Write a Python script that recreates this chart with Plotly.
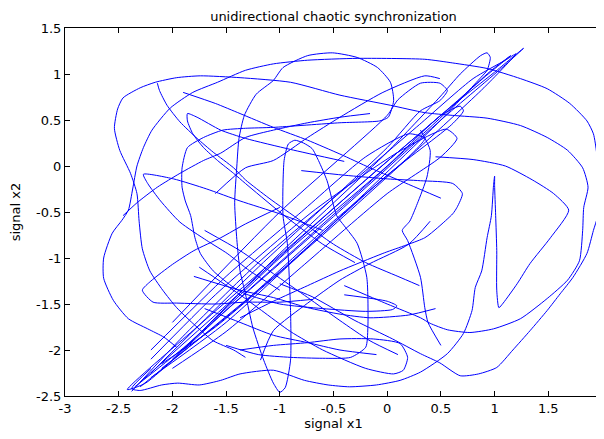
import plotly.graph_objects as go

# ---- traced trajectory pieces (signal x1, signal x2) ----
outer_a_x1 = [-1.96,-2.08,-2.23,-2.41,-2.55,-2.64,-2.64,-2.56,-2.47,-2.41,-2.37,-2.33,-2.27,-2.19,-2.02,-1.81,-1.58,-1.32,-1.06,-0.74,-0.28,0.35,0.61,0.93,1.24,1.49,1.70,1.86,1.92,1.95,1.96,1.96,1.92,1.86,1.73,1.61,1.49,1.33,1.17,1.02,0.85,0.68,0.49,0.31,0.05,-0.30,-0.70,-1.00]
outer_a_x2 = [-1.97,-1.86,-1.77,-1.66,-1.46,-1.22,-1.00,-0.73,-0.59,-0.48,-0.25,0.00,0.20,0.39,0.63,0.80,0.91,1.04,1.11,1.15,1.17,1.16,1.12,1.06,0.95,0.84,0.68,0.49,0.35,0.14,-0.20,-0.54,-0.70,-0.95,-1.21,-1.39,-1.57,-1.79,-2.00,-2.19,-2.26,-2.28,-2.14,-2.04,-1.88,-1.68,-1.42,-1.28]

outer_b_x1 = [-1.32,-1.43,-1.62,-1.81,-1.96,-2.09,-2.21,-2.28,-2.31,-2.33,-2.39,-2.49,-2.54,-2.51,-2.46,-2.30,-2.16,-1.96,-1.74,-1.37,-0.90,-0.44,0.03,0.35,0.61,0.93,1.24,1.49,1.68,1.82,1.87,1.83,1.82,1.79,1.68,1.49,1.24,0.99,0.77,0.56,0.40,0.31,0.00,-0.40]
outer_b_x2 = [-2.08,-2.00,-1.90,-1.71,-1.54,-1.35,-1.14,-0.90,-0.60,-0.30,-0.08,0.17,0.41,0.62,0.74,0.85,0.91,0.96,0.98,0.96,0.91,0.77,0.66,0.58,0.55,0.52,0.44,0.31,0.17,-0.02,-0.23,-0.45,-0.70,-1.03,-1.24,-1.44,-1.66,-1.77,-1.81,-1.78,-1.71,-1.65,-1.50,-1.30]

spike_x1 = [0.45,0.80,1.10,1.35,1.55,1.69,1.52,1.33,1.21,1.08,1.04,1.02,1.02,1.01,1.00,1.00,0.99,0.97,0.93,0.88,0.82,0.79,0.71,0.56,0.31,0.12,-0.10,-0.35,-0.55,-0.77,-1.06,-1.37,-1.55,-1.75,-1.95,-2.10,-2.30,-2.38,-2.20]
spike_x2 = [0.10,0.07,0.00,-0.15,-0.30,-0.48,-0.78,-1.06,-1.28,-1.49,-1.54,-1.35,-0.92,-0.54,-0.21,-0.11,-0.21,-0.54,-0.78,-1.14,-1.32,-1.57,-1.82,-2.04,-2.24,-2.33,-2.38,-2.40,-2.38,-2.33,-2.22,-2.26,-2.33,-2.38,-2.36,-2.38,-2.44,-2.42,-2.20]

dome_x1 = [-1.50,-1.20,-0.90,-0.60,-0.34,-0.20,-0.18,-0.19,-0.28,-0.40,-0.47,-0.56,-0.64,-0.70,-0.78,-0.86,-0.92,-0.96,-0.97,-0.93,-0.90,-0.90,-0.95,-1.00,-1.06,-1.15,-1.25,-1.32,-1.37,-1.40,-1.42,-1.40,-1.38,-1.33,-1.22,-1.06,-0.97,-0.74,-0.51,-0.28,-0.09,0.03,0.06,0.01,-0.07,-0.44,-1.06,-1.32,-1.53,-1.71,-1.86,-1.91,-1.91,-1.88,-1.83,-1.79,-1.74,-1.62,-1.43,-1.32,-1.00,-0.60,-0.20,0.05,0.09,0.00,-0.40]
dome_x2 = [-1.95,-2.05,-2.08,-2.09,-2.08,-1.97,-1.76,-1.21,-0.84,-0.65,-0.54,-0.16,0.06,0.19,0.25,0.28,0.24,0.06,-0.54,-0.84,-1.57,-2.11,-2.41,-2.46,-2.36,-2.11,-1.76,-1.39,-1.14,-0.80,-0.40,0.00,0.30,0.55,0.78,0.93,1.07,1.20,1.23,1.18,1.07,0.91,0.71,0.53,0.49,0.47,0.42,0.41,0.39,0.31,0.20,-0.02,-0.23,-0.38,-0.54,-0.78,-0.95,-1.14,-1.32,-1.39,-1.50,-1.55,-1.58,-1.56,-1.52,-1.47,-1.40]

tear_x1 = [-0.40,-0.90,-1.32,-1.55,-1.77,-1.86,-1.86,-1.81,-1.71,-1.58,-1.43,-1.32,-1.00,-0.60,-0.30]
tear_x2 = [0.05,0.18,0.30,0.39,0.53,0.57,0.49,0.35,0.20,0.06,-0.08,-0.19,-0.50,-0.85,-1.05]

tipa_x1 = [-0.60,-1.00,-1.37,-1.68,-1.99,-2.27,-2.23,-2.11,-1.93,-1.68,-1.49,-1.28,-1.00]
tipa_x2 = [-0.70,-0.52,-0.38,-0.25,-0.14,-0.09,-0.19,-0.38,-0.61,-0.81,-0.95,-1.14,-1.35]

tipb_x1 = [-1.00,-1.32,-1.55,-1.80,-2.00,-2.20,-2.28,-2.18,-1.96,-1.60,-1.32,-1.00,-0.70]
tipb_x2 = [-0.45,-0.63,-0.78,-0.92,-1.07,-1.25,-1.35,-1.48,-1.49,-1.50,-1.48,-1.48,-1.45]

rise_x1 = [-2.46,-2.33,-2.14,-1.93,-1.71,-1.55,-1.32,-1.06,-0.74,-0.44,-0.16]
rise_x2 = [-0.54,-0.40,-0.23,-0.08,0.06,0.14,0.31,0.39,0.47,0.53,0.57]

fall_x1 = [-1.90,-1.60,-1.37,-1.06,-0.74,-0.44,-0.16,0.20,0.50]
fall_x2 = [0.80,0.68,0.57,0.42,0.28,0.13,-0.02,-0.20,-0.35]

up_x1 = [-1.60,-1.32,-1.06,-0.74,-0.44,-0.04,0.35,0.49]
up_x2 = [-0.30,-0.02,0.06,0.31,0.53,0.80,0.98,0.95]

diag_x1 = [-2.14,-2.12,-2.05,-1.93,-1.77,-1.62,-1.43,-1.32,-1.10,-0.80,-0.50,-0.20,0.10,0.30]
diag_x2 = [0.90,0.82,0.66,0.48,0.30,0.15,-0.02,-0.15,-0.35,-0.60,-0.85,-1.05,-1.20,-1.30]

mid_x1 = [-1.37,-1.06,-0.74,-0.44,-0.04,0.35,0.47,0.61,0.65,0.70,0.61,0.31,0.00,-0.40,-0.80]
mid_x2 = [-1.65,-1.47,-1.30,-1.14,-0.95,-0.78,-0.67,-0.52,-0.45,-0.30,-0.19,-0.16,-0.14,-0.10,-0.05]

low_x1 = [-1.37,-1.06,-0.74,-0.44,-0.13,0.12,0.19,0.15,0.06,-0.20,-0.60,-0.90,-1.17,-1.37,-1.75]
low_x2 = [-2.00,-1.95,-1.92,-1.88,-1.88,-1.93,-2.08,-2.22,-2.26,-2.20,-2.00,-1.80,-1.57,-1.40,-1.10]

cross_a_x1 = [-1.80,-1.37,-1.06,-0.74,-0.44,-0.16,0.20,0.45]
cross_a_x2 = [-1.20,-1.35,-1.43,-1.54,-1.61,-1.65,-1.62,-1.55]
cross_b_x1 = [-1.70,-1.37,-1.06,-0.74,-0.44,-0.10]
cross_b_x2 = [-1.55,-1.70,-1.84,-1.92,-2.00,-2.05]
cross_c_x1 = [-1.18,-1.06,-0.74,-0.44,-0.16,0.20,0.40]
cross_c_x2 = [-2.11,-1.79,-1.49,-1.24,-1.06,-0.85,-0.60]
cross_d_x1 = [-1.70,-1.37,-1.06,-0.74,-0.44,-0.16,0.10]
cross_d_x2 = [-0.70,-0.92,-1.17,-1.43,-1.68,-1.90,-2.05]

arc_r_x1 = [0.31,0.40,0.37,0.28,0.21,0.14,0.19,0.31,0.35,0.38,0.50]
arc_r_x2 = [0.39,0.17,-0.12,-0.41,-0.60,-0.70,-0.81,-1.21,-1.54,-1.70,-1.95]

bund1_x1 = [-2.42,-1.80,-1.00,0.00,0.60,1.00,1.27,1.10,0.50,-0.50,-1.50,-2.25,-2.42]
bund1_x2 = [-2.43,-1.78,-0.97,0.05,0.65,1.02,1.28,1.10,0.50,-0.55,-1.57,-2.36,-2.43]
bund2_x1 = [-2.20,-1.20,0.00,0.31,0.49,0.56,0.49,0.31,0.10,0.00,-1.00,-2.00]
bund2_x2 = [-2.25,-1.10,0.20,0.60,0.71,0.82,0.90,0.90,0.72,0.55,-0.50,-1.70]
bund3_x1 = [-1.90,-1.00,0.00,0.49,0.68,0.87,0.93,0.96,0.93,0.87,0.50,-0.50,-1.50,-2.20]
bund3_x2 = [-2.00,-0.95,0.15,0.75,1.00,1.20,1.23,1.18,1.04,0.96,0.50,-0.62,-1.70,-2.30]
bund4_x1 = [-2.00,-1.00,0.00,0.50,0.68,0.71,0.60,0.00,-1.00,-2.30]
bund4_x2 = [-2.10,-1.00,0.00,0.55,0.65,0.60,0.45,-0.10,-1.15,-2.40]
bund5_x1 = [-2.38,-1.90,-1.20,-0.40,0.30,0.80,1.10,1.20,0.90,0.30,-0.60,-1.60,-2.10]
bund5_x2 = [-2.45,-1.85,-1.05,-0.25,0.45,0.95,1.15,1.22,0.85,0.20,-0.75,-1.75,-2.15]
bund6_x1 = [-2.00,-1.50,-0.80,0.00,0.50,0.65,0.55,0.10,-0.70,-1.60,-2.20]
bund6_x2 = [-2.20,-1.80,-1.10,-0.30,0.10,0.30,0.40,0.15,-0.50,-1.40,-2.10]
bund7_x1 = [-2.20,-1.50,-0.80,-0.20,0.20,0.35,0.20,-0.50,-1.40,-2.10]
bund7_x2 = [-2.00,-1.20,-0.50,0.10,0.35,0.30,0.10,-0.60,-1.55,-2.20]
bund8_x1 = [-2.30,-1.60,-0.90,-0.20,0.40,0.90,1.15,0.95,0.40,-0.30,-1.10,-1.90,-2.35]
bund8_x2 = [-2.35,-1.62,-0.88,-0.15,0.45,0.96,1.20,1.02,0.42,-0.32,-1.15,-1.98,-2.40]

pieces = [
    (outer_a_x1, outer_a_x2), (outer_b_x1, outer_b_x2), (spike_x1, spike_x2),
    (dome_x1, dome_x2), (tear_x1, tear_x2), (tipa_x1, tipa_x2), (tipb_x1, tipb_x2),
    (rise_x1, rise_x2), (fall_x1, fall_x2), (up_x1, up_x2), (diag_x1, diag_x2),
    (mid_x1, mid_x2), (low_x1, low_x2),
    (cross_a_x1, cross_a_x2), (cross_b_x1, cross_b_x2), (cross_c_x1, cross_c_x2), (cross_d_x1, cross_d_x2),
    (arc_r_x1, arc_r_x2),
    (bund1_x1, bund1_x2), (bund2_x1, bund2_x2), (bund3_x1, bund3_x2), (bund4_x1, bund4_x2),
    (bund5_x1, bund5_x2), (bund6_x1, bund6_x2), (bund7_x1, bund7_x2), (bund8_x1, bund8_x2),
]

xs, ys = [], []
for px, py in pieces:
    xs += px + [None]
    ys += py + [None]

FONT = "DejaVu Sans, Arial, sans-serif"

fig = go.Figure(go.Scatter(x=xs, y=ys, mode="lines",
                           line=dict(color="#0000ff", width=1, shape="spline", smoothing=0.6),
                           connectgaps=False, showlegend=False, hoverinfo="skip"))

axis_common = dict(showgrid=False, zeroline=False, showline=True, linecolor="black", linewidth=1,
                   mirror="ticks", ticks="inside", ticklen=5, tickcolor="black", automargin=False,
                   tickfont=dict(family=FONT, size=13, color="black"))

# the page body adds an 8px offset, so margins are set to land the axes box at the reference position
fig.update_layout(
    width=604, height=439,
    margin=dict(l=57, r=10, t=20, b=51),
    paper_bgcolor="white", plot_bgcolor="white",
    title=dict(text="unidirectional chaotic synchronization", x=0.5, xanchor="center", xref="paper",
               y=1 - 8 / 439, yanchor="middle", yref="container",
               font=dict(family=FONT, size=13, color="black")),
    xaxis=dict(range=[-3, 2], tickmode="array", tickvals=[-3,-2.5,-2,-1.5,-1,-0.5,0,0.5,1,1.5,2],
               ticktext=["-3","-2.5","-2","-1.5","-1","-0.5","0","0.5","1","1.5","2"],
               title=dict(text="signal x1", standoff=2, font=dict(family=FONT, size=13, color="black")),
               **axis_common),
    yaxis=dict(range=[-2.5, 1.5], tickmode="array", tickvals=[-2.5,-2,-1.5,-1,-0.5,0,0.5,1,1.5],
               ticktext=["-2.5","-2","-1.5","-1","-0.5","0","0.5","1","1.5"],
               title=dict(text="signal x2", standoff=35, font=dict(family=FONT, size=13, color="black")),
               **axis_common),
)

fig.write_html("out.html")
